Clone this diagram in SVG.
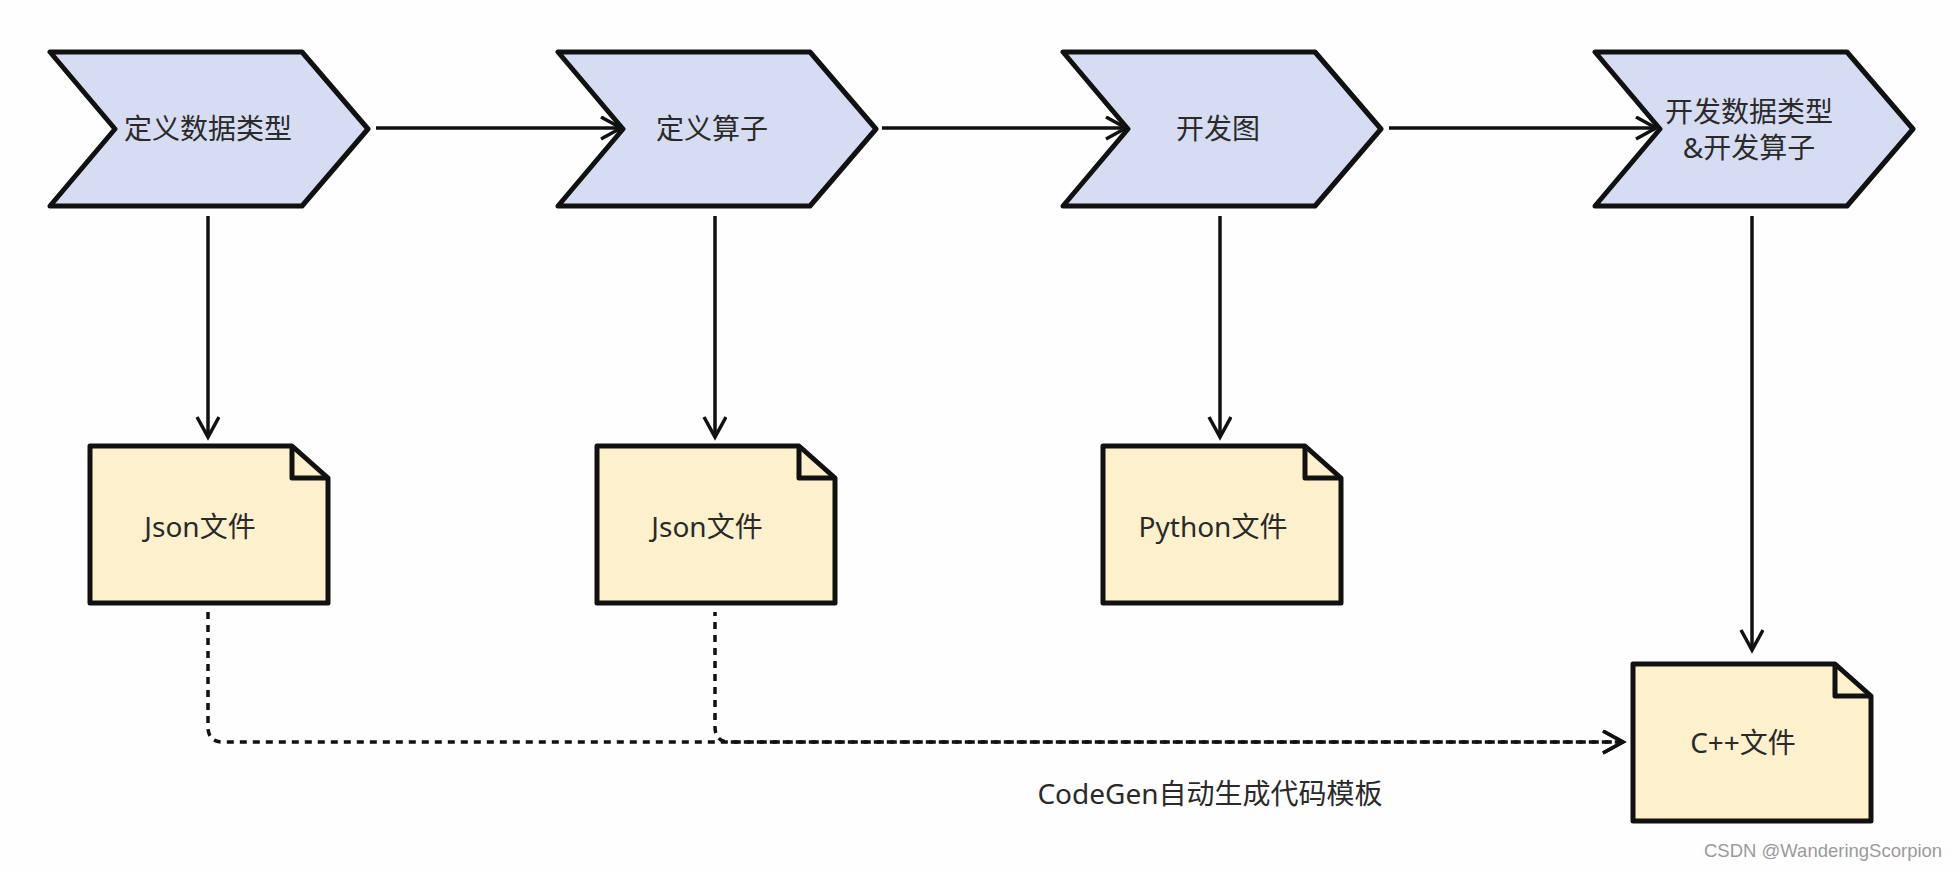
<svg xmlns="http://www.w3.org/2000/svg" width="1958" height="870" viewBox="0 0 1958 870">
<defs>
<style>
.chev{fill:#D6DCF2;stroke:#111;stroke-width:5;stroke-linejoin:round}
.file{fill:#FDF0CD;stroke:#111;stroke-width:5;stroke-linejoin:round}
.fold{fill:none;stroke:#111;stroke-width:5;stroke-linejoin:round}
.lbl{font-family:"Noto Sans","Noto Sans CJK SC",sans-serif;font-size:28px;fill:#2a2a2a;text-anchor:middle;dominant-baseline:central}
.conn{fill:none;stroke:#111;stroke-width:3.5}
.dash{fill:none;stroke:#111;stroke-width:3.5;stroke-dasharray:7 6}
.wm{font-family:"Liberation Sans",Arial,sans-serif;font-size:18.5px;fill:#9a9a9a}
</style>
<marker id="arr" markerUnits="userSpaceOnUse" markerWidth="26" markerHeight="28" refX="21" refY="12" orient="auto" viewBox="0 0 26 28">
<path d="M1,1 L21,12 L1,23" fill="none" stroke="#111" stroke-width="3.5" stroke-linejoin="miter"/>
</marker>
<path id="chevShape" d="M0,0 H252 L318,77 L252,154 H0 L65,77 Z"/>
</defs>
<rect width="1958" height="870" fill="#FEFEFE"/>

<g id="step1" transform="translate(50,52)">
<use href="#chevShape" class="chev"/>
<text class="lbl" x="158" y="76">定义数据类型</text>
</g>
<g id="step2" transform="translate(558,52)">
<use href="#chevShape" class="chev"/>
<text class="lbl" x="154" y="76">定义算子</text>
</g>
<g id="step3" transform="translate(1063,52)">
<use href="#chevShape" class="chev"/>
<text class="lbl" x="155" y="76">开发图</text>
</g>
<g id="step4" transform="translate(1595,52)">
<use href="#chevShape" class="chev"/>
<text class="lbl" x="154" y="59">开发数据类型</text>
<text class="lbl" x="154" y="95">&amp;开发算子</text>
</g>

<g id="file1" transform="translate(90,446)">
<path class="file" d="M0,0 H202 L238,32 V157 H0 Z"/>
<path class="fold" d="M202,0 V32 H238"/>
<text class="lbl" x="110" y="80">Json文件</text>
</g>
<g id="file2" transform="translate(597,446)">
<path class="file" d="M0,0 H202 L238,32 V157 H0 Z"/>
<path class="fold" d="M202,0 V32 H238"/>
<text class="lbl" x="110" y="80">Json文件</text>
</g>
<g id="file3" transform="translate(1103,446)">
<path class="file" d="M0,0 H202 L238,32 V157 H0 Z"/>
<path class="fold" d="M202,0 V32 H238"/>
<text class="lbl" x="110" y="80">Python文件</text>
</g>
<g id="file4" transform="translate(1633,664)">
<path class="file" d="M0,0 H202 L238,32 V157 H0 Z"/>
<path class="fold" d="M202,0 V32 H238"/>
<text class="lbl" x="110" y="78">C++文件</text>
</g>

<g id="connectors">
<path class="conn" d="M376,128 H621" marker-end="url(#arr)"/>
<path class="conn" d="M882,128 H1126" marker-end="url(#arr)"/>
<path class="conn" d="M1389,128 H1656" marker-end="url(#arr)"/>
<path class="conn" d="M208,216 V437" marker-end="url(#arr)"/>
<path class="conn" d="M715,216 V437" marker-end="url(#arr)"/>
<path class="conn" d="M1220,216 V437" marker-end="url(#arr)"/>
<path class="conn" d="M1752,216 V650" marker-end="url(#arr)"/>
<path class="dash" d="M208,612 V727 Q208,742 223,742 H1623" marker-end="url(#arr)"/>
<path class="dash" d="M715,612 V727 Q715,742 730,742 H1623" style="stroke-dashoffset:3" marker-end="url(#arr)"/>
</g>

<text id="codegen-label" class="lbl" x="1210" y="793">CodeGen自动生成代码模板</text>
<text id="watermark" class="wm" x="1704" y="857">CSDN @WanderingScorpion</text>
</svg>
